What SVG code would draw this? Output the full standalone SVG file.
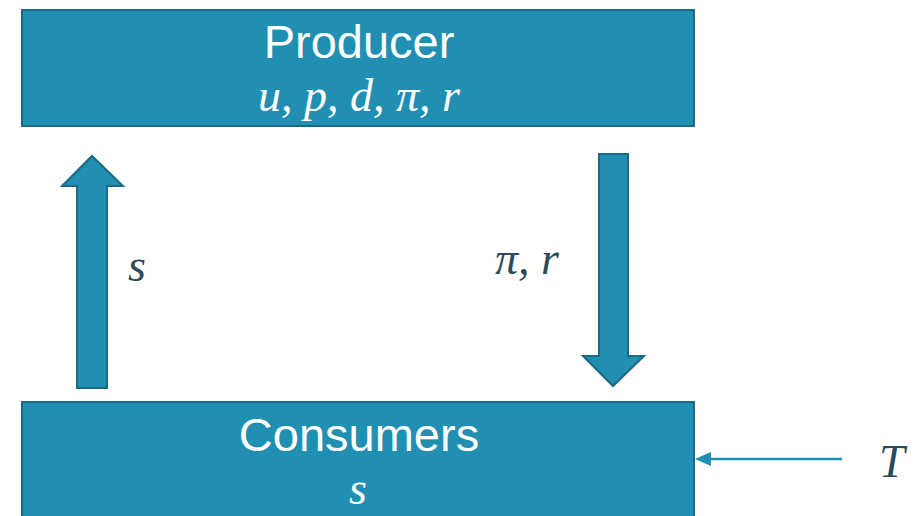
<svg xmlns="http://www.w3.org/2000/svg" width="919" height="516" viewBox="0 0 919 516">
<style>
.box{fill:#208fb1;stroke:#1a6a86;stroke-width:2}
.arr{fill:#208fb1;stroke:#1a6a86;stroke-width:2;stroke-linejoin:miter}
.title{font-family:"Liberation Sans",Arial,sans-serif;font-size:47px;fill:#ffffff;text-anchor:middle}
.mw{font-family:"Liberation Serif","DejaVu Serif",serif;font-style:italic;font-size:46px;fill:#ffffff;text-anchor:middle}
.md{font-family:"Liberation Serif","DejaVu Serif",serif;font-style:italic;font-size:46px;fill:#2b4a5c}
</style>
<g id="producer">
<rect class="box" x="22" y="10" width="672" height="116"/>
<text class="title" x="359" y="58">Producer</text>
<text class="mw" x="359" y="111">u, p, d, π, r</text>
</g>
<g id="consumers">
<rect class="box" x="22" y="402" width="672" height="130"/>
<text class="title" x="359" y="451">Consumers</text>
<text class="mw" x="358" y="504">s</text>
</g>
<g id="connectors">
<path class="arr" d="M77,388 L77,186 L62,186 L92,156 L123,186 L107,186 L107,388 Z"/>
<text class="md" x="128" y="281">s</text>
<path class="arr" d="M599,154 L628,154 L628,356 L644,356 L613,386 L583,356 L599,356 Z"/>
<text class="md" x="495" y="274">π, r</text>
<line x1="842" y1="459" x2="710" y2="459" stroke="#208fb1" stroke-width="2.5"/>
<path d="M695,459 L711,452 L711,466 Z" fill="#208fb1"/>
<text class="md" x="879" y="477">T</text>
</g>
</svg>
